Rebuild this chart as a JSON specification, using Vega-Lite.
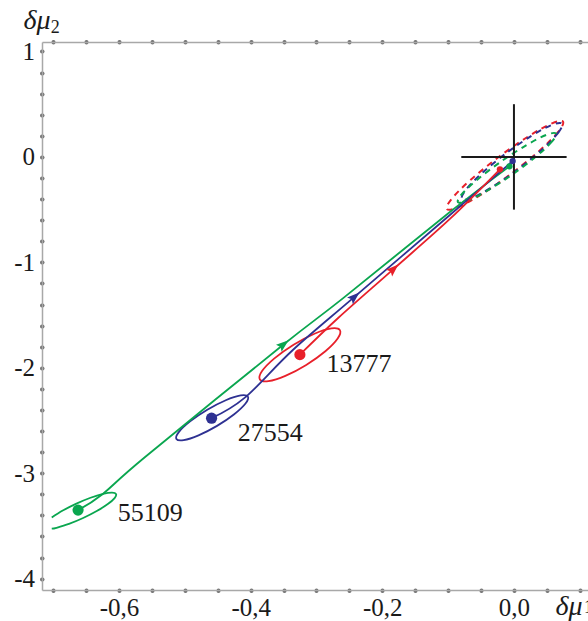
{
  "$schema": "https://vega.github.io/schema/vega-lite/v6.json",
  "width": 546,
  "height": 548,
  "autosize": {"type": "none"},
  "padding": {"left": 42, "top": 42, "right": 0, "bottom": 31},
  "config": {"view": {"stroke": null}, "font": "Liberation Serif"},
  "datasets": {
    "dashed": [
      {"s": "red", "p": "rdash", "k": 0, "x": 0.07447, "y": 0.3343},
      {"s": "red", "p": "rdash", "k": 1, "x": 0.06749, "y": 0.2394},
      {"s": "red", "p": "rdash", "k": 2, "x": 0.03876, "y": 0.059},
      {"s": "red", "p": "rdash", "k": 3, "x": -0.00403, "y": -0.1587},
      {"s": "red", "p": "rdash", "k": 4, "x": -0.0494, "y": -0.3553},
      {"s": "red", "p": "rdash", "k": 5, "x": -0.08519, "y": -0.4781},
      {"s": "red", "p": "rdash", "k": 6, "x": -0.10183, "y": -0.4943},
      {"s": "red", "p": "rdash", "k": 7, "x": -0.09485, "y": -0.3994},
      {"s": "red", "p": "rdash", "k": 8, "x": -0.06612, "y": -0.219},
      {"s": "red", "p": "rdash", "k": 9, "x": -0.02333, "y": -0.0013},
      {"s": "red", "p": "rdash", "k": 10, "x": 0.02204, "y": 0.1953},
      {"s": "red", "p": "rdash", "k": 11, "x": 0.05783, "y": 0.3181},
      {"s": "blue", "p": "bdash", "k": 0, "x": 0.07295, "y": 0.31543},
      {"s": "blue", "p": "bdash", "k": 1, "x": 0.06737, "y": 0.22998},
      {"s": "blue", "p": "bdash", "k": 2, "x": 0.04292, "y": 0.07158},
      {"s": "blue", "p": "bdash", "k": 3, "x": 0.00615, "y": -0.11737},
      {"s": "blue", "p": "bdash", "k": 4, "x": -0.03308, "y": -0.28622},
      {"s": "blue", "p": "bdash", "k": 5, "x": -0.06425, "y": -0.38972},
      {"s": "blue", "p": "bdash", "k": 6, "x": -0.07903, "y": -0.40017},
      {"s": "blue", "p": "bdash", "k": 7, "x": -0.07345, "y": -0.31472},
      {"s": "blue", "p": "bdash", "k": 8, "x": -0.049, "y": -0.15632},
      {"s": "blue", "p": "bdash", "k": 9, "x": -0.01223, "y": 0.03263},
      {"s": "blue", "p": "bdash", "k": 10, "x": 0.027, "y": 0.20148},
      {"s": "blue", "p": "bdash", "k": 11, "x": 0.05817, "y": 0.30498},
      {"s": "green", "p": "gdash", "k": 0, "x": 0.06383, "y": 0.22128},
      {"s": "green", "p": "gdash", "k": 1, "x": 0.05761, "y": 0.14465},
      {"s": "green", "p": "gdash", "k": 2, "x": 0.03311, "y": 0.00152},
      {"s": "green", "p": "gdash", "k": 3, "x": -0.00312, "y": -0.16978},
      {"s": "green", "p": "gdash", "k": 4, "x": -0.04137, "y": -0.32334},
      {"s": "green", "p": "gdash", "k": 5, "x": -0.07137, "y": -0.41801},
      {"s": "green", "p": "gdash", "k": 6, "x": -0.08511, "y": -0.42844},
      {"s": "green", "p": "gdash", "k": 7, "x": -0.07889, "y": -0.35181},
      {"s": "green", "p": "gdash", "k": 8, "x": -0.05439, "y": -0.20868},
      {"s": "green", "p": "gdash", "k": 9, "x": -0.01816, "y": -0.03738},
      {"s": "green", "p": "gdash", "k": 10, "x": 0.02009, "y": 0.11618},
      {"s": "green", "p": "gdash", "k": 11, "x": 0.05009, "y": 0.21085}
    ],
    "loops": [
      {"s": "red", "p": "rloop", "k": 0, "x": -0.2644, "y": -1.6431},
      {"s": "red", "p": "rloop", "k": 1, "x": -0.2678, "y": -1.7225},
      {"s": "red", "p": "rloop", "k": 2, "x": -0.2865, "y": -1.8432},
      {"s": "red", "p": "rloop", "k": 3, "x": -0.3156, "y": -1.9731},
      {"s": "red", "p": "rloop", "k": 4, "x": -0.3473, "y": -2.0772},
      {"s": "red", "p": "rloop", "k": 5, "x": -0.373, "y": -2.1277},
      {"s": "red", "p": "rloop", "k": 6, "x": -0.386, "y": -2.1111},
      {"s": "red", "p": "rloop", "k": 7, "x": -0.3827, "y": -2.0317},
      {"s": "red", "p": "rloop", "k": 8, "x": -0.3639, "y": -1.911},
      {"s": "red", "p": "rloop", "k": 9, "x": -0.3348, "y": -1.7811},
      {"s": "red", "p": "rloop", "k": 10, "x": -0.3031, "y": -1.677},
      {"s": "red", "p": "rloop", "k": 11, "x": -0.2774, "y": -1.6265},
      {"s": "blue", "p": "bloop", "k": 0, "x": -0.4042, "y": -2.274},
      {"s": "blue", "p": "bloop", "k": 1, "x": -0.4078, "y": -2.3392},
      {"s": "blue", "p": "bloop", "k": 2, "x": -0.425, "y": -2.4407},
      {"s": "blue", "p": "bloop", "k": 3, "x": -0.4511, "y": -2.5513},
      {"s": "blue", "p": "bloop", "k": 4, "x": -0.4792, "y": -2.6413},
      {"s": "blue", "p": "bloop", "k": 5, "x": -0.5018, "y": -2.6867},
      {"s": "blue", "p": "bloop", "k": 6, "x": -0.5128, "y": -2.6752},
      {"s": "blue", "p": "bloop", "k": 7, "x": -0.5092, "y": -2.61},
      {"s": "blue", "p": "bloop", "k": 8, "x": -0.492, "y": -2.5085},
      {"s": "blue", "p": "bloop", "k": 9, "x": -0.4659, "y": -2.3979},
      {"s": "blue", "p": "bloop", "k": 10, "x": -0.4378, "y": -2.3079},
      {"s": "blue", "p": "bloop", "k": 11, "x": -0.4152, "y": -2.2625}
    ],
    "paths": [
      {"s": "green", "p": "gloop", "k": 0, "x": -0.7022, "y": -3.4211},
      {"s": "green", "p": "gloop", "k": 1, "x": -0.6855, "y": -3.3547},
      {"s": "green", "p": "gloop", "k": 2, "x": -0.6647, "y": -3.2886},
      {"s": "green", "p": "gloop", "k": 3, "x": -0.6433, "y": -3.2329},
      {"s": "green", "p": "gloop", "k": 4, "x": -0.6243, "y": -3.1961},
      {"s": "green", "p": "gloop", "k": 5, "x": -0.6107, "y": -3.1837},
      {"s": "green", "p": "gloop", "k": 6, "x": -0.6045, "y": -3.1978},
      {"s": "green", "p": "gloop", "k": 7, "x": -0.6067, "y": -3.2361},
      {"s": "green", "p": "gloop", "k": 8, "x": -0.617, "y": -3.2927},
      {"s": "green", "p": "gloop", "k": 9, "x": -0.6338, "y": -3.3591},
      {"s": "green", "p": "gloop", "k": 10, "x": -0.6545, "y": -3.4252},
      {"s": "green", "p": "gloop", "k": 11, "x": -0.676, "y": -3.481},
      {"s": "green", "p": "gloop", "k": 12, "x": -0.6949, "y": -3.5177},
      {"s": "green", "p": "gloop", "k": 13, "x": -0.7022, "y": -3.5268},
      {"s": "green", "p": "gpath", "k": 0, "x": -0.6626, "y": -3.3522},
      {"s": "green", "p": "gpath", "k": 1, "x": -0.6246, "y": -3.1968},
      {"s": "green", "p": "gpath", "k": 2, "x": -0.5608, "y": -2.8484},
      {"s": "green", "p": "gpath", "k": 3, "x": -0.3511, "y": -1.7844},
      {"s": "green", "p": "gpath", "k": 4, "x": -0.2599, "y": -1.3418},
      {"s": "green", "p": "gpath", "k": 5, "x": -0.0973, "y": -0.5226},
      {"s": "green", "p": "gpath", "k": 6, "x": -0.0068, "y": -0.0895},
      {"s": "blue", "p": "bpath", "k": 0, "x": -0.4594, "y": -2.4783},
      {"s": "blue", "p": "bpath", "k": 1, "x": -0.4088, "y": -2.2834},
      {"s": "blue", "p": "bpath", "k": 2, "x": -0.3359, "y": -1.8315},
      {"s": "blue", "p": "bpath", "k": 3, "x": -0.2432, "y": -1.3324},
      {"s": "blue", "p": "bpath", "k": 4, "x": -0.0973, "y": -0.5508},
      {"s": "blue", "p": "bpath", "k": 5, "x": -0.002, "y": -0.0395},
      {"s": "red", "p": "rpath", "k": 0, "x": -0.3252, "y": -1.8757},
      {"s": "red", "p": "rpath", "k": 1, "x": -0.2675, "y": -1.5301},
      {"s": "red", "p": "rpath", "k": 2, "x": -0.1839, "y": -1.0687},
      {"s": "red", "p": "rpath", "k": 3, "x": -0.0973, "y": -0.5885},
      {"s": "red", "p": "rpath", "k": 4, "x": -0.0213, "y": -0.1177}
    ],
    "cross": [
      {"x": -0.08, "x2": 0.08, "y": 0, "y2": 0},
      {"x": 0, "x2": 0, "y": -0.5, "y2": 0.5}
    ],
    "arrows": [
      {"s": "green", "x": -0.3511, "y": -1.7844, "a": 51},
      {"s": "blue", "x": -0.2432, "y": -1.3324, "a": 49},
      {"s": "red", "x": -0.1839, "y": -1.0687, "a": 47}
    ],
    "dots": [
      {"s": "red", "kind": "start", "x": -0.3252, "y": -1.8757},
      {"s": "blue", "kind": "start", "x": -0.4594, "y": -2.4783},
      {"s": "green", "kind": "start", "x": -0.6622, "y": -3.3503},
      {"s": "red", "kind": "end", "x": -0.0213, "y": -0.1177},
      {"s": "green", "kind": "end", "x": -0.0068, "y": -0.0895},
      {"s": "blue", "kind": "end", "x": -0.002, "y": -0.0395}
    ],
    "labels": [
      {"t": "13777", "x": -0.2847, "y": -2.0386},
      {"t": "27554", "x": -0.4195, "y": -2.6977},
      {"t": "55109", "x": -0.6018, "y": -3.4534}
    ],
    "subs": [
      {"t": "2", "x": -0.7037, "y": 1.18},
      {"t": "1", "x": 0.1064, "y": -4.33}
    ]
  },
  "resolve": {"axis": {"x": "independent", "y": "independent"}},
  "layer": [
    {
      "data": {"name": "dashed"},
      "mark": {"type": "line", "interpolate": "cardinal-closed", "strokeDash": [6, 5], "strokeWidth": 2},
      "encoding": {
        "x": {
          "field": "x", "type": "quantitative",
          "scale": {"domain": [-0.717, 0.1125], "nice": false, "zero": false},
          "axis": {
            "orient": "bottom",
            "values": [-0.7, -0.65, -0.6, -0.55, -0.5, -0.45, -0.4, -0.35, -0.3, -0.25, -0.2, -0.15, -0.1, -0.05, 0, 0.05, 0.1],
            "grid": false,
            "domainColor": "#a8a8a8", "domainWidth": 1.5,
            "tickColor": "#707070", "tickWidth": 4, "tickSize": 0.5, "tickCap": "round",
            "labelFont": "Liberation Serif", "labelFontSize": 25, "labelColor": "#1a1a1a",
            "labelPadding": 5, "labelOverlap": false, "labelFlush": false,
            "labelExpr": "abs(datum.value*5 - round(datum.value*5)) < 0.001 ? (datum.value < -0.001 ? '-' : '') + replace(format(abs(datum.value), '.1f'), '.', ',') : ''",
            "title": "δμ",
            "titleFont": "Liberation Serif", "titleFontStyle": "italic", "titleFontWeight": "normal",
            "titleFontSize": 28, "titleColor": "#1a1a1a",
            "titleAngle": 0, "titleAlign": "left", "titleBaseline": "alphabetic",
            "titleX": 513, "titleY": 24
          }
        },
        "y": {
          "field": "y", "type": "quantitative",
          "scale": {"domain": [-4.108, 1.09], "nice": false, "zero": false},
          "axis": {
            "orient": "left",
            "values": [-4, -3.8, -3.6, -3.4, -3.2, -3, -2.8, -2.6, -2.4, -2.2, -2, -1.8, -1.6, -1.4, -1.2, -1, -0.8, -0.6, -0.4, -0.2, 0, 0.2, 0.4, 0.6, 0.8, 1],
            "grid": false,
            "domainColor": "#a8a8a8", "domainWidth": 1.5,
            "tickColor": "#707070", "tickWidth": 4, "tickSize": 0.5, "tickCap": "round",
            "labelFont": "Liberation Serif", "labelFontSize": 25, "labelColor": "#1a1a1a",
            "labelPadding": 7, "labelOverlap": false, "labelFlush": false,
            "labelExpr": "abs(datum.value - round(datum.value)) < 0.001 ? toString(round(datum.value)) : ''",
            "title": "δμ",
            "titleFont": "Liberation Serif", "titleFontStyle": "italic", "titleFontWeight": "normal",
            "titleFontSize": 28, "titleColor": "#1a1a1a",
            "titleAngle": 0, "titleAlign": "left", "titleBaseline": "alphabetic",
            "titleX": -19, "titleY": -14
          }
        },
        "color": {"field": "s", "type": "nominal", "scale": {"domain": ["red", "blue", "green"], "range": ["#e8202a", "#2e3192", "#0aa64f"]}, "legend": null},
        "detail": {"field": "p"},
        "order": {"field": "k", "type": "quantitative"}
      }
    },
    {
      "data": {"name": "cross"},
      "mark": {"type": "rule", "color": "#1a1a1a", "strokeWidth": 2},
      "encoding": {
        "x": {
          "field": "x", "type": "quantitative",
          "axis": {
            "orient": "top",
            "values": [-0.7, -0.65, -0.6, -0.55, -0.5, -0.45, -0.4, -0.35, -0.3, -0.25, -0.2, -0.15, -0.1, -0.05, 0, 0.05, 0.1],
            "grid": false, "labels": false, "title": null,
            "domainColor": "#a8a8a8", "domainWidth": 1.5,
            "tickColor": "#707070", "tickWidth": 4, "tickSize": 0.5, "tickCap": "round"
          }
        },
        "x2": {"field": "x2"},
        "y": {"field": "y", "type": "quantitative", "axis": null},
        "y2": {"field": "y2"}
      }
    },
    {
      "data": {"name": "loops"},
      "mark": {"type": "line", "interpolate": "cardinal-closed", "strokeWidth": 1.8},
      "encoding": {
        "x": {"field": "x", "type": "quantitative", "axis": null},
        "y": {"field": "y", "type": "quantitative", "axis": null},
        "color": {"field": "s", "type": "nominal", "legend": null},
        "detail": {"field": "p"},
        "order": {"field": "k", "type": "quantitative"}
      }
    },
    {
      "data": {"name": "paths"},
      "mark": {"type": "line", "interpolate": "cardinal", "strokeWidth": 1.8},
      "encoding": {
        "x": {"field": "x", "type": "quantitative", "axis": null},
        "y": {"field": "y", "type": "quantitative", "axis": null},
        "color": {"field": "s", "type": "nominal", "legend": null},
        "detail": {"field": "p"},
        "order": {"field": "k", "type": "quantitative"}
      }
    },
    {
      "data": {"name": "arrows"},
      "mark": {"type": "point", "shape": "M0,-1L0.6,0.7L0,0.4L-0.6,0.7Z", "filled": true, "opacity": 1, "size": 220},
      "encoding": {
        "x": {"field": "x", "type": "quantitative", "axis": null},
        "y": {"field": "y", "type": "quantitative", "axis": null},
        "angle": {"field": "a", "type": "quantitative", "scale": null},
        "color": {"field": "s", "type": "nominal", "legend": null}
      }
    },
    {
      "data": {"name": "dots"},
      "mark": {"type": "circle", "opacity": 1},
      "encoding": {
        "x": {"field": "x", "type": "quantitative", "axis": null},
        "y": {"field": "y", "type": "quantitative", "axis": null},
        "size": {"field": "kind", "type": "nominal", "scale": {"domain": ["start", "end"], "range": [125, 40]}, "legend": null},
        "color": {"field": "s", "type": "nominal", "legend": null}
      }
    },
    {
      "data": {"name": "labels"},
      "mark": {"type": "text", "align": "left", "baseline": "alphabetic", "font": "Liberation Serif", "fontSize": 26, "color": "#1a1a1a"},
      "encoding": {
        "x": {"field": "x", "type": "quantitative", "axis": null},
        "y": {"field": "y", "type": "quantitative", "axis": null},
        "text": {"field": "t"}
      }
    },
    {
      "data": {"name": "subs"},
      "mark": {"type": "text", "align": "left", "baseline": "alphabetic", "font": "Liberation Serif", "fontSize": 18, "color": "#1a1a1a", "clip": false},
      "encoding": {
        "x": {"field": "x", "type": "quantitative", "axis": null},
        "y": {"field": "y", "type": "quantitative", "axis": null},
        "text": {"field": "t"}
      }
    }
  ]
}
